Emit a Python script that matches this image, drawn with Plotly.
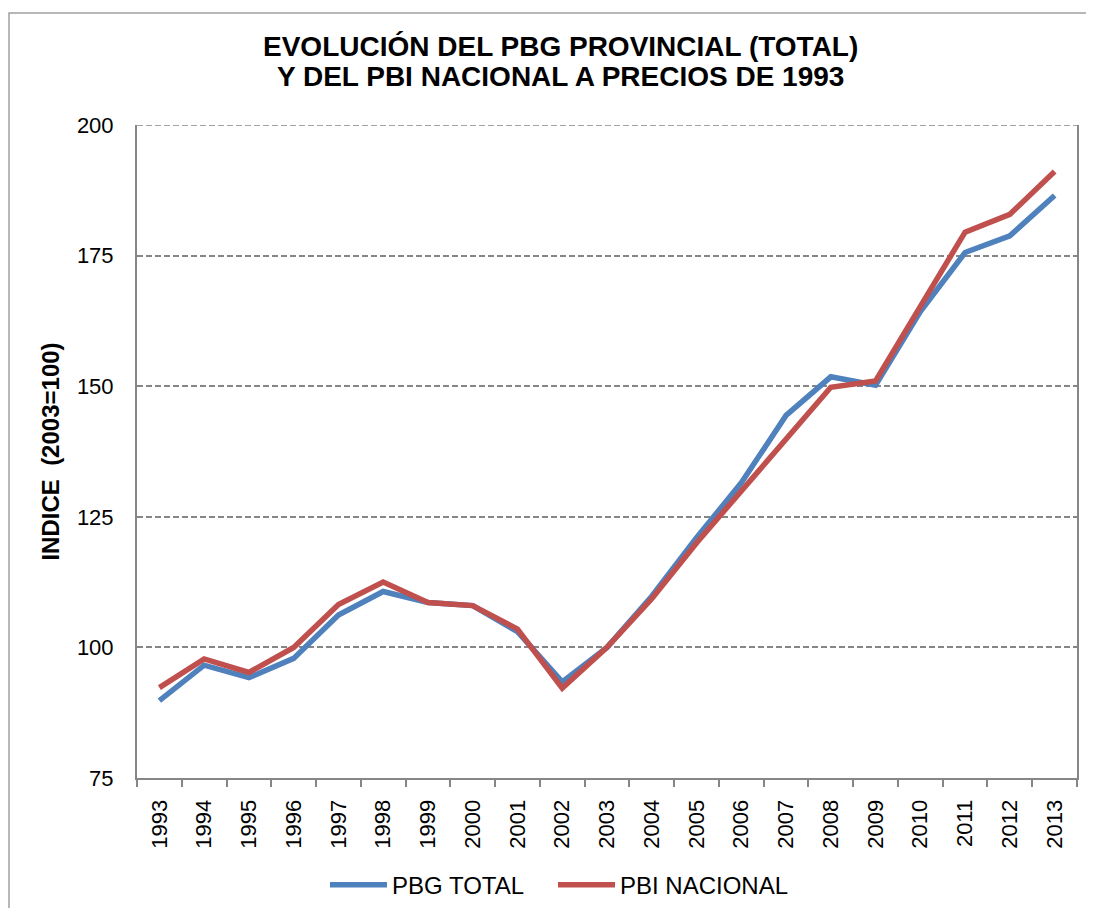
import plotly.graph_objects as go

years = [str(y) for y in range(1993, 2014)]
pbg_total = [89.8, 96.6, 94.2, 97.9, 106.2, 110.7, 108.6, 108.0, 103.0, 93.4, 100.0,
             109.8, 121.0, 131.5, 144.4, 151.8, 150.2, 164.3, 175.6, 178.8, 186.5]
pbi_nacional = [92.3, 97.8, 95.2, 100.0, 108.2, 112.5, 108.6, 108.0, 103.5, 92.2, 100.0,
                109.3, 120.0, 129.9, 140.2, 149.8, 151.0, 165.3, 179.5, 182.9, 191.1]

title_lines = ["EVOLUCIÓN DEL PBG PROVINCIAL (TOTAL)", "Y DEL PBI NACIONAL A PRECIOS DE 1993"]
y_title = "INDICE  (2003=100)"
y_ticks = [75, 100, 125, 150, 175, 200]

FONT = "Liberation Sans, Arial, sans-serif"
GRAY = "#868686"

fig = go.Figure()
fig.add_trace(go.Scatter(x=years, y=pbg_total, mode="lines", name="PBG TOTAL",
                         line=dict(color="#4F81BD", width=5.5), legendwidth=156))
fig.add_trace(go.Scatter(x=years, y=pbi_nacional, mode="lines", name="PBI NACIONAL",
                         line=dict(color="#C0504D", width=5.5), legendwidth=190))

fig.update_layout(
    width=1078, height=900,
    margin=dict(l=129, r=9, t=117, b=130, autoexpand=False),
    paper_bgcolor="white", plot_bgcolor="white",
    font=dict(family=FONT, size=22, color="black"),
    showlegend=True,
    legend=dict(orientation="h", x=0.2, xanchor="left", y=-0.1639, yanchor="middle",
                font=dict(size=24), itemwidth=57,
                bgcolor="rgba(0,0,0,0)", borderwidth=0),
    annotations=[
        dict(text="<b>" + title_lines[0] + "</b>", xref="paper", yref="paper",
             x=0.4505, y=1.1195, xanchor="center", yanchor="middle", showarrow=False,
             font=dict(size=28, family=FONT)),
        dict(text="<b>" + title_lines[1] + "</b>", xref="paper", yref="paper",
             x=0.4505, y=1.0750, xanchor="center", yanchor="middle", showarrow=False,
             font=dict(size=28, family=FONT)),
    ],
    shapes=[
        dict(type="rect", xref="paper", yref="paper",
             x0=(1 - 129) / 940, x1=1.2, y0=-0.3, y1=(770 - 5) / 653,
             line=dict(color="#A0A0A0", width=1.5), fillcolor="rgba(0,0,0,0)",
             layer="below"),
        dict(type="line", xref="paper", yref="y", x0=0, x1=1, y0=y_ticks[-1], y1=y_ticks[-1],
             line=dict(color=GRAY, width=1.5, dash="6px,3px"), layer="below"),
    ],
)

fig.update_xaxes(
    type="category", showgrid=False, showline=True, linecolor=GRAY, linewidth=2,
    ticks="outside", tickson="boundaries", ticklen=7, tickcolor=GRAY, tickwidth=2,
    tickangle=-90, tickfont=dict(size=22), range=[-0.5, 20.5], ticklabelstandoff=11,
)
fig.update_yaxes(
    range=[75, 200], tickvals=y_ticks, showgrid=True, gridcolor=GRAY, griddash="6px,3px",
    gridwidth=1.5, showline=True, linecolor=GRAY, linewidth=2, mirror=True,
    ticks="", tickfont=dict(size=22), zeroline=False, ticklabelstandoff=17,
    title=dict(text="<b>" + y_title + "</b>", font=dict(size=24), standoff=10),
)

fig.write_html("out.html")
